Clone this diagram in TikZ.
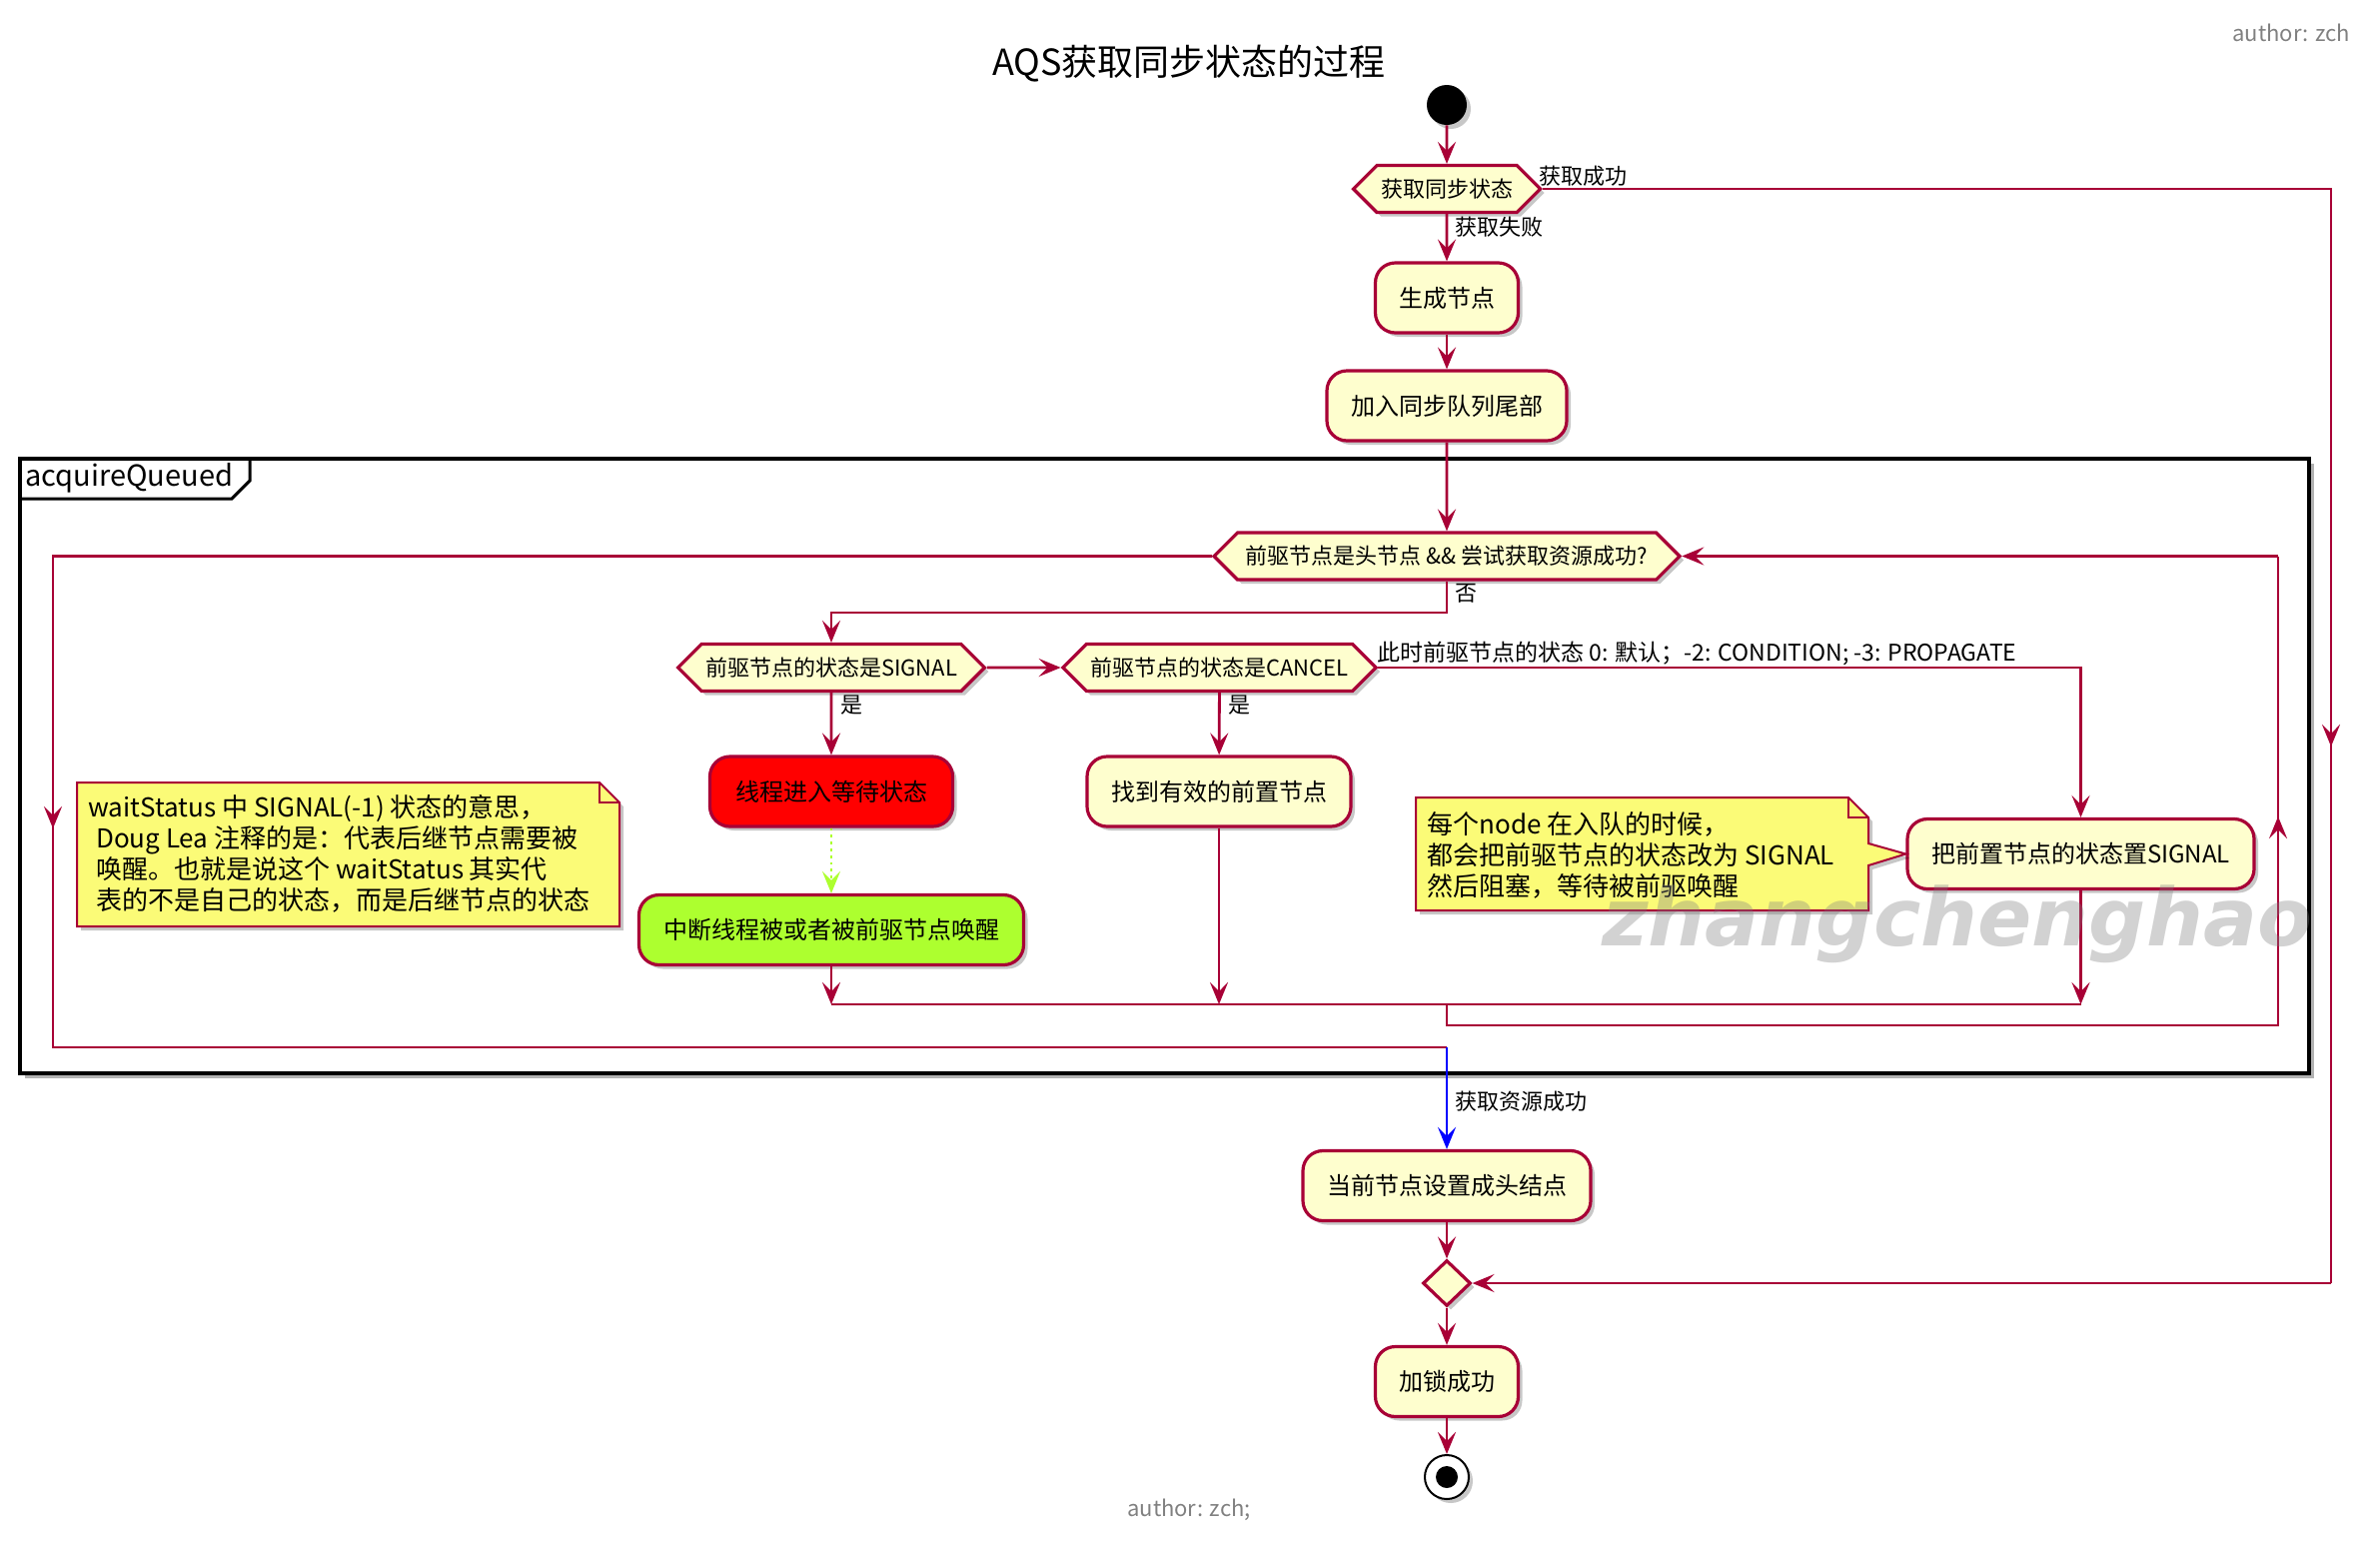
\documentclass[tikz,border=0pt]{standalone}
\usepackage{fontspec}
\setmainfont{Noto Sans CJK SC}
\newfontfamily\wmfont{DejaVu Sans}
\usetikzlibrary{arrows.meta,shapes.symbols,shapes.geometric,shadows}
\definecolor{lc}{HTML}{A80036}
\definecolor{actfill}{HTML}{FEFECE}
\definecolor{notefill}{HTML}{FBFB77}
\definecolor{gy}{HTML}{ADFF2F}
\begin{document}
\begin{tikzpicture}[x=0.5pt,y=-0.5pt,
  ln/.style={draw=lc,line width=1.4pt},
  arr/.style={draw=lc,line width=1.4pt,-{Stealth[length=11pt,width=9pt,inset=4.5pt]}},
  shad/.style={drop shadow={shadow xshift=2pt,shadow yshift=-2pt,fill=black,opacity=0.22}},
  act/.style={rectangle,rounded corners=10pt,draw=lc,line width=1.6pt,fill=actfill,minimum height=35pt,font=\fontsize{12}{14}\selectfont,shad},
  dec/.style={signal,signal to=east and west,signal pointer angle=90,draw=lc,line width=1.6pt,fill=actfill,minimum height=23.5pt,inner xsep=2pt,font=\fontsize{11}{13}\selectfont,shad},
  lbl/.style={inner sep=0pt,font=\fontsize{11}{13}\selectfont},
  notebg/.style={draw=lc,line width=1pt,fill=notefill,shad},
  notetxt/.style={inner sep=0pt,align=left,font=\fontsize{13}{15.5}\selectfont},
  coord/.style={inner sep=0pt,minimum size=0pt}
]
\useasboundingbox (0,0) rectangle (2382,1543);

% title and authors
\node (title) at (1190,64) {\fontsize{18}{22}\selectfont AQS获取同步状态的过程};
\node[anchor=east,text=gray,font=\fontsize{11}{13}\selectfont] (auth) at (2359,33) {author: zch};
\node[text=gray,font=\fontsize{11}{13}\selectfont] (auth2) at (1190,1511) {author: zch;};

% frame
\node[draw=black,line width=2pt,fill=white,minimum width=1145.5pt,minimum height=307.5pt,inner sep=0pt,
  drop shadow={shadow xshift=2.5pt,shadow yshift=-2.5pt,fill=black,opacity=0.3}] (frame) at (1165.5,766.5) {};
\draw[line width=1.5pt] (20,499) -- (232,499) -- (250,481) -- (250,459);
\node[anchor=west,inner sep=0pt,font=\fontsize{14.5}{17}\selectfont] (ftab) at (25,478) {acquireQueued};

% nodes
\node[circle,fill=black,minimum size=20pt,inner sep=0pt,shad] (start) at (1448,105) {};
\node[dec,minimum width=89.5pt] (d1) at (1448,189) {获取同步状态};
\node[act,minimum width=71.5pt] (a1) at (1448,298) {生成节点};
\node[act,minimum width=120pt] (a2) at (1448,406) {加入同步队列尾部};
\node[dec,minimum width=233pt] (loop) at (1448,556.5) {前驱节点是头节点 \&\& 尝试获取资源成功?};
\node[dec,minimum width=150pt] (sig) at (832,668) {前驱节点的状态是SIGNAL};
\node[dec,minimum width=155.5pt] (can) at (1220.5,668) {前驱节点的状态是CANCEL};
\node[act,fill=red,minimum width=121.5pt] (wait) at (832,792) {线程进入等待状态};
\node[act,fill=gy,minimum width=192.5pt] (wake) at (832,930.5) {中断线程被或者被前驱节点唤醒};
\node[act,minimum width=132pt] (find) at (1220,792) {找到有效的前置节点};
\node[act,minimum width=173.5pt] (setsig) at (2082.5,854.5) {把前置节点的状态置SIGNAL};
\node[act,minimum width=144pt] (head) at (1448,1186.5) {当前节点设置成头结点};
\node[diamond,draw=lc,line width=1.6pt,fill=actfill,minimum width=24pt,minimum height=23pt,inner sep=0pt,shad] (merge) at (1448,1284) {};
\node[act,minimum width=71.5pt] (lock) at (1448,1382.5) {加锁成功};
\node[circle,draw=black,line width=1pt,fill=white,minimum size=22pt,inner sep=0pt,shad] (end) at (1448,1478) {};
\node[circle,fill=black,minimum size=11pt,inner sep=0pt] (enddot) at (end.center) {};

% coordinates
\coordinate (r1) at (2333,189);
\coordinate (rm) at (2333,747);
\coordinate (r2) at (2333,1284);
\coordinate (l1) at (53,556.5);
\coordinate (lm) at (53,829);
\coordinate (l2) at (53,1048);
\coordinate (l3) at (1448,1048);
\coordinate (n1) at (1448,613);
\coordinate (c1) at (2082.5,668);
\coordinate (m1) at (832,1005);
\coordinate (m2) at (1220,1005);
\coordinate (m3) at (2082.5,1005);
\coordinate (mc) at (1448,1005);
\coordinate (b1) at (1448,1026);
\coordinate (b2) at (2280,1026);
\coordinate (bm) at (2280,817);
\coordinate (b3) at (2280,556.5);

% connectors
\draw[arr] (start) -- (d1);
\draw[arr] (d1) -- (a1);
\node[lbl,anchor=west] (lfail) at (1456,227) {获取失败};
\draw[ln] (d1.east) -- (r1) -- (r2);
\draw[arr] (r1) -- (rm);
\draw[arr] (r2) -- (merge.east);
\node[lbl,anchor=base west] (lsucc) at (1540,184) {获取成功};
\draw[arr] (a1) -- (a2);
\draw[arr] (a2) -- (loop);
\draw[ln] (loop.west) -- (l1) -- (l2) -- (l3);
\draw[arr] (l1) -- (lm);
\draw[arr,draw=blue] (l3) -- (head);
\node[lbl,anchor=west] (lres) at (1456,1102) {获取资源成功};
\draw[arr] (loop.south) -- (n1) -| (sig.north);
\node[lbl,anchor=west] (lno) at (1456,594) {否};
\draw[arr] (sig) -- (can);
\draw[arr] (sig) -- (wait);
\node[lbl,anchor=west] (lyes1) at (841,706) {是};
\draw[arr] (can) -- (find);
\node[lbl,anchor=west] (lyes2) at (1229,706) {是};
\draw[arr] (can.east) -- (c1) -- (setsig);
\node[lbl,anchor=base west,font=\fontsize{11.5}{13}\selectfont] (lother) at (1378,661) {此时前驱节点的状态 0: 默认；-2: CONDITION; -3: PROPAGATE};
\draw[draw=gy,line width=1.4pt,dotted,-{Stealth[length=11pt,width=9pt,inset=4.5pt]}] (wait) -- (wake);
\draw[arr] (wake) -- (m1);
\draw[arr] (find) -- (m2);
\draw[arr] (setsig) -- (m3);
\draw[ln] (m1) -- (m3);
\draw[ln] (mc) -- (b1) -- (b2) -- (b3);
\draw[arr] (b2) -- (bm);
\draw[arr] (b3) -- (loop.east);
\draw[arr] (head) -- (merge);
\draw[arr] (merge) -- (lock);
\draw[arr] (lock) -- (end);

% left note
\draw[notebg] (77,783) -- (600,783) -- (620,803) -- (620,927) -- (77,927) -- cycle;
\draw[draw=lc,line width=1pt] (600,783) -- (600,803) -- (620,803);
\node[notetxt,anchor=north west] (note1) at (88,795) {waitStatus 中 SIGNAL(-1) 状态的意思，\\
\hspace*{0.3em}Doug Lea 注释的是：代表后继节点需要被\\
\hspace*{0.3em}唤醒。也就是说这个 waitStatus 其实代\\
\hspace*{0.3em}表的不是自己的状态，而是后继节点的状态};

% right note
\draw[notebg] (1417,798) -- (1850,798) -- (1870,818) -- (1870,844) -- (setsig.west) -- (1870,866) -- (1870,911) -- (1417,911) -- cycle;
\draw[draw=lc,line width=1pt] (1850,798) -- (1850,818) -- (1870,818);
\node[notetxt,anchor=north west] (note2) at (1428,812) {每个node 在入队的时候，\\
都会把前驱节点的状态改为 SIGNAL\\
然后阻塞，等待被前驱唤醒};

% watermark
\begin{scope}
\clip (frame.south west) rectangle (frame.north east);
\node[anchor=base west,inner sep=0pt,text=gray,opacity=0.35,font=\wmfont\bfseries\itshape\fontsize{40}{44}\selectfont] (wm) at (1603,946) {zhangchenghao};
\end{scope}
\end{tikzpicture}
\end{document}
